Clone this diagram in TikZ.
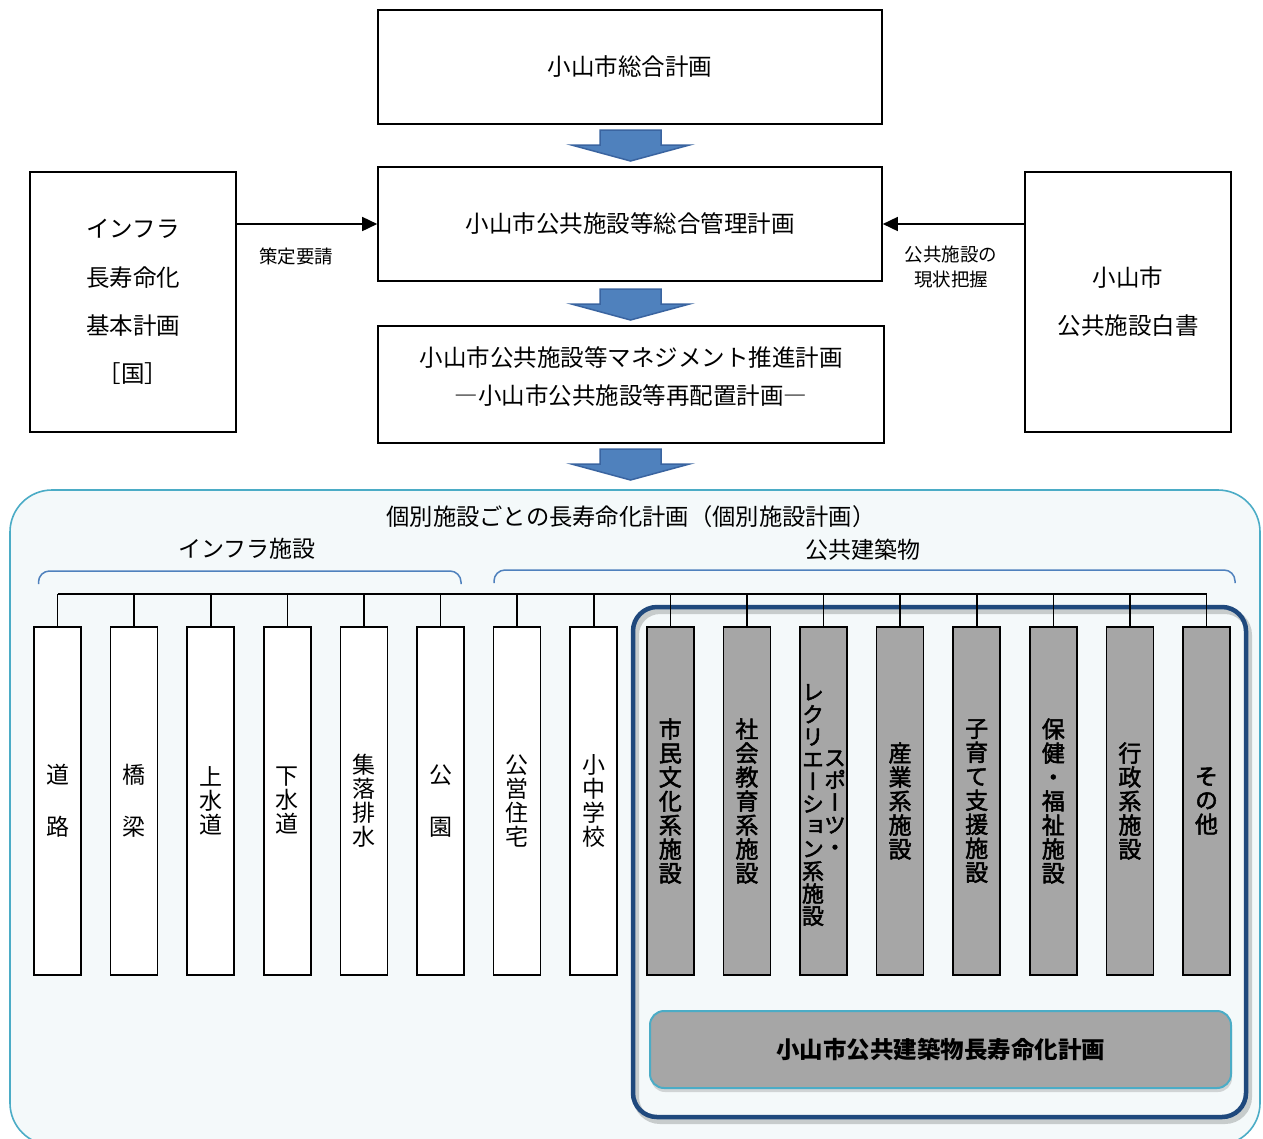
\documentclass[tikz,border=0pt]{standalone}
\usepackage{fontspec}
\setmainfont{Noto Sans CJK JP}
\newfontfamily\vfont[RawFeature=+vert]{Noto Sans CJK JP}
\newfontfamily\vfontm[RawFeature=+vert, FakeBold=2.2]{Noto Sans CJK JP}
\usetikzlibrary{shadows,arrows.meta}
\definecolor{contline}{HTML}{4BACC6}
\definecolor{contfill}{HTML}{F4F9FA}
\definecolor{navy}{HTML}{1F497D}
\definecolor{colgray}{HTML}{A6A6A6}
\definecolor{arrfill}{HTML}{4F81BD}
\definecolor{arrline}{HTML}{3A64A0}
\definecolor{brk}{HTML}{4F81BD}
\begin{document}
\begin{tikzpicture}[x=1pt,y=-1pt,
  box/.style={draw=black, line width=1.6pt, fill=white, inner sep=0pt, align=center,
    font=\fontsize{23.5}{24}\selectfont},
  lbl/.style={inner sep=0pt, align=center, font=\fontsize{23}{24}\selectfont},
  small/.style={inner sep=0pt, align=center, font=\fontsize{18.5}{25}\selectfont},
  wcol/.style={draw=black, line width=1.6pt, fill=white, minimum width=47pt,
    minimum height=348pt, inner sep=0pt, align=center,
    font=\vfont\fontsize{23}{24}\selectfont},
  gcol/.style={wcol, fill=colgray, font=\vfontm\fontsize{23}{24}\selectfont},
  gsub/.style={inner sep=0pt, align=center, font=\vfontm\fontsize{22}{22.4}\selectfont},
  bigarrow/.pic={\path[fill=arrfill, draw=arrline, line width=1.5pt]
    (-30.5,0) -- (30.5,0) -- (30.5,15) -- (59,15) -- (0,31) -- (-59,15) -- (-30.5,15) -- cycle;},
  conn/.style={line width=1.6pt, -{Triangle[length=15pt,width=14pt]}},
  bus/.style={line width=1.6pt}
]
\useasboundingbox (0,0) rectangle (1263,1138);
\fill[white] (0,0) rectangle (1263,1138);

% top boxes
\node[box, minimum width=504pt, minimum height=114pt] (B1) at (630,67) {小山市総合計画};
\node[box, minimum width=504pt, minimum height=114pt] (B2) at (630,224) {小山市公共施設等総合管理計画};
\node[box, minimum width=506pt, minimum height=117pt] (B3) at (631,384.5) {};
\node[lbl, font=\fontsize{23.5}{38}\selectfont] (t3) at (631,377) {小山市公共施設等マネジメント推進計画\\―小山市公共施設等再配置計画―};
\node[box, minimum width=206pt, minimum height=260pt, font=\fontsize{23.5}{48.3}\selectfont] (L) at (133,302) {インフラ\\長寿命化\\基本計画\\［国］};
\node[box, minimum width=206pt, minimum height=260pt, font=\fontsize{23.5}{48}\selectfont] (R) at (1128,302) {小山市\\公共施設白書};

\pic at (630.5,130) {bigarrow};
\pic at (630.5,289) {bigarrow};
\pic at (630.5,449) {bigarrow};

\draw[conn] (L.east |- B2.west) -- (B2.west);
\draw[conn] (R.west |- B2.east) -- (B2.east);
\node[small] (s1) at (296,256) {策定要請};
\node[small] (s2) at (951,267) {公共施設の\\現状把握};

% container
\draw[draw=contline, fill=contfill, line width=1.6pt, rounded corners=42pt] (10,490) rectangle (1260,1145);
\node[lbl, font=\fontsize{23.3}{24}\selectfont] (T) at (631,517) {個別施設ごとの長寿命化計画（個別施設計画）};
\node[lbl] (TI) at (247,549) {インフラ施設};
\node[lbl] (TP) at (863,550) {公共建築物};
\draw[brk, line width=1.5pt, rounded corners=11pt] (38.5,584) |- (461,571) -- (461,584);
\draw[brk, line width=1.5pt, rounded corners=11pt] (494,583) |- (1235,570) -- (1235,583);

% navy frame shadow + frame
\draw[black, opacity=0.18, line width=6pt, rounded corners=24pt] (636,611) rectangle (1249,1121);
\draw[navy, line width=4.5pt, rounded corners=24pt] (633,607) rectangle (1246,1117);

% columns
\node[wcol, font=\vfont\fontsize{23}{52}\selectfont] (c0) at (57.5,801) {道\\路};
\node[wcol, font=\vfont\fontsize{23}{52}\selectfont] (c1) at (134.1,801) {橋\\梁};
\node[wcol] (c2) at (210.7,801) {上\\水\\道};
\node[wcol] (c3) at (287.3,801) {下\\水\\道};
\node[wcol] (c4) at (363.9,801) {集\\落\\排\\水};
\node[wcol, font=\vfont\fontsize{23}{52}\selectfont] (c5) at (440.5,801) {公\\園};
\node[wcol] (c6) at (517.1,801) {公\\営\\住\\宅};
\node[wcol] (c7) at (593.7,801) {小\\中\\学\\校};
\node[gcol] (c8) at (670.3,801) {市\\民\\文\\化\\系\\施\\設};
\node[gcol] (c9) at (746.9,801) {社\\会\\教\\育\\系\\施\\設};
\node[gcol] (c10) at (823.5,801) {};
\node[gsub] (c10a) at (835,803) {ス\\ポ\\ー\\ツ\\・};
\node[gsub] (c10b) at (813,805) {レ\\ク\\リ\\エ\\ー\\シ\\ョ\\ン\\系\\施\\設};
\node[gcol] (c11) at (900.1,801) {産\\業\\系\\施\\設};
\node[gcol] (c12) at (976.7,801) {子\\育\\て\\支\\援\\施\\設};
\node[gcol] (c13) at (1053.3,801) {保\\健\\・\\福\\祉\\施\\設};
\node[gcol] (c14) at (1129.9,801) {行\\政\\系\\施\\設};
\node[gcol] (c15) at (1206.5,801) {そ\\の\\他};

\coordinate (bus) at (0,594);
\draw[bus] (c0.north |- bus) -- (c15.north |- bus);
\foreach \i in {0,...,15} \draw[bus] (c\i.north) -- (c\i.north |- bus);

% bottom box
\node[draw=contline, fill=colgray, line width=2pt, rounded corners=14pt,
  minimum width=581pt, minimum height=77pt, inner sep=0pt,
  drop shadow={opacity=0.3, shadow xshift=1pt, shadow yshift=-4pt},
  font=\bfseries\fontsize{23.5}{24}\selectfont] (BB) at (940.5,1049.5) {小山市公共建築物長寿命化計画};
\end{tikzpicture}
\end{document}
